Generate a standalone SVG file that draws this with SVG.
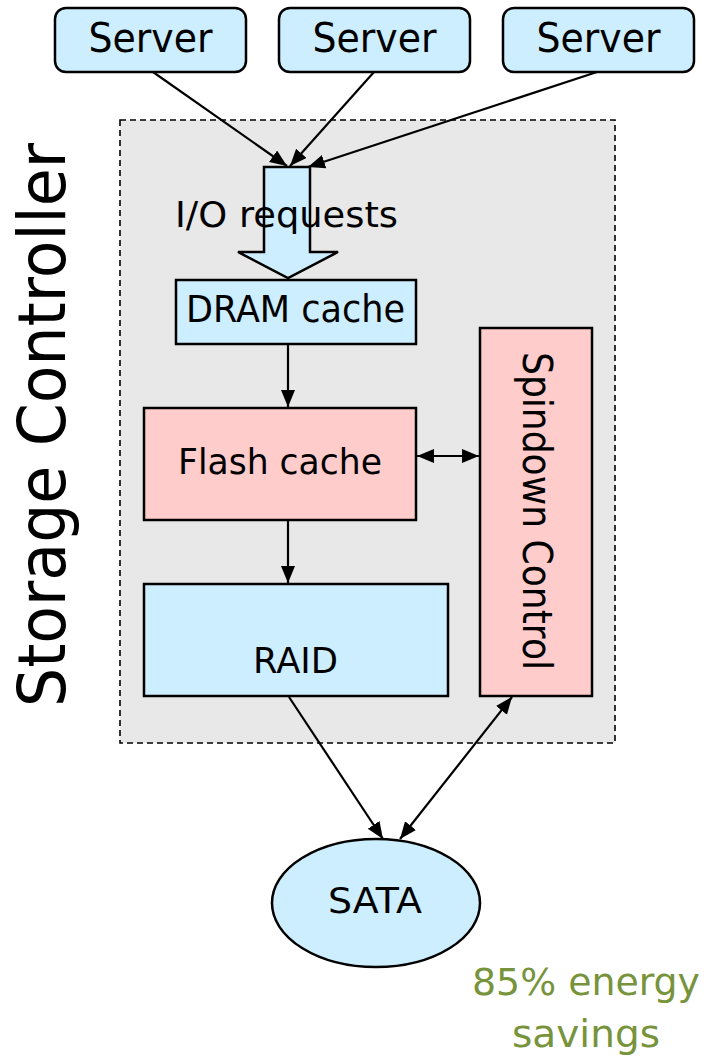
<svg xmlns="http://www.w3.org/2000/svg" width="706" height="1056" viewBox="0 0 706 1056">
<style>
.t{font-family:"DejaVu Sans","Liberation Sans",sans-serif;fill:#000;}
.blue{fill:#cdeeff;stroke:#000;stroke-width:2.5;}
.pink{fill:#ffcccc;stroke:#000;stroke-width:2.5;}
.conn line{stroke:#000;stroke-width:2.2;fill:none;}
</style>
<defs>
<marker id="ah" markerUnits="userSpaceOnUse" markerWidth="20" markerHeight="16" refX="17" refY="7" orient="auto-start-reverse">
<path d="M0,0 L17,7 L0,14 z" fill="#000"/>
</marker>
</defs>
<rect width="706" height="1056" fill="#fff"/>
<g id="controller">
<rect x="120" y="120" width="495" height="623" fill="#e8e8e8" stroke="#000" stroke-width="1.6" stroke-dasharray="6,4"/>
<text class="t" x="65" y="425" font-size="66" text-anchor="middle" textLength="564" lengthAdjust="spacingAndGlyphs" transform="rotate(-90 65 425)">Storage Controller</text>
</g>
<g id="server1"><rect class="blue" x="55" y="8" width="191" height="64" rx="11"/><text class="t" x="150.5" y="52" font-size="40" text-anchor="middle" textLength="124" lengthAdjust="spacingAndGlyphs">Server</text></g>
<g id="server2"><rect class="blue" x="279" y="8" width="191" height="64" rx="11"/><text class="t" x="374.5" y="52" font-size="40" text-anchor="middle" textLength="124" lengthAdjust="spacingAndGlyphs">Server</text></g>
<g id="server3"><rect class="blue" x="503" y="8" width="191" height="64" rx="11"/><text class="t" x="598.5" y="52" font-size="40" text-anchor="middle" textLength="124" lengthAdjust="spacingAndGlyphs">Server</text></g>
<g id="io">
<polygon class="blue" points="264,167 310,167 310,252 338,252 288,278 238,252 264,252"/>
<text class="t" x="175" y="227" font-size="36" textLength="223" lengthAdjust="spacingAndGlyphs">I/O requests</text>
</g>
<g id="dram"><rect class="blue" x="176" y="280" width="240" height="64"/><text class="t" x="295.5" y="322" font-size="37" text-anchor="middle" textLength="219" lengthAdjust="spacingAndGlyphs">DRAM cache</text></g>
<g id="flash"><rect class="pink" x="144" y="408" width="272" height="112"/><text class="t" x="280" y="474" font-size="36" text-anchor="middle" textLength="204" lengthAdjust="spacingAndGlyphs">Flash cache</text></g>
<g id="raid"><rect class="blue" x="144" y="584" width="304" height="112"/><text class="t" x="295.5" y="673" font-size="35" text-anchor="middle" textLength="85" lengthAdjust="spacingAndGlyphs">RAID</text></g>
<g id="spindown"><rect class="pink" x="480" y="328" width="112" height="368"/><text class="t" x="511" y="523" font-size="40" text-anchor="middle" textLength="318" lengthAdjust="spacingAndGlyphs" transform="rotate(90 523 511) translate(12 -12)">Spindown Control</text></g>
<g id="sata"><ellipse class="blue" cx="376" cy="903" rx="104" ry="64"/><text class="t" x="375" y="913" font-size="35" text-anchor="middle" textLength="94" lengthAdjust="spacingAndGlyphs">SATA</text></g>
<g id="note">
<text class="t" x="586" y="995" font-size="37" text-anchor="middle" textLength="228" lengthAdjust="spacingAndGlyphs" style="fill:#77933c">85% energy</text>
<text class="t" x="586" y="1047" font-size="37" text-anchor="middle" textLength="148" lengthAdjust="spacingAndGlyphs" style="fill:#77933c">savings</text>
</g>
<g id="connectors" class="conn">
<line x1="153" y1="72" x2="287" y2="166" marker-end="url(#ah)"/>
<line x1="374" y1="72" x2="290" y2="166" marker-end="url(#ah)"/>
<line x1="597" y1="72" x2="308" y2="167" marker-end="url(#ah)"/>
<line x1="288" y1="344" x2="288" y2="407" marker-end="url(#ah)"/>
<line x1="288" y1="520" x2="288" y2="583" marker-end="url(#ah)"/>
<line x1="417" y1="456" x2="479" y2="456" marker-start="url(#ah)" marker-end="url(#ah)"/>
<line x1="289" y1="697" x2="383" y2="839" marker-end="url(#ah)"/>
<line x1="400" y1="839" x2="512" y2="697" marker-start="url(#ah)" marker-end="url(#ah)"/>
</g>
</svg>
